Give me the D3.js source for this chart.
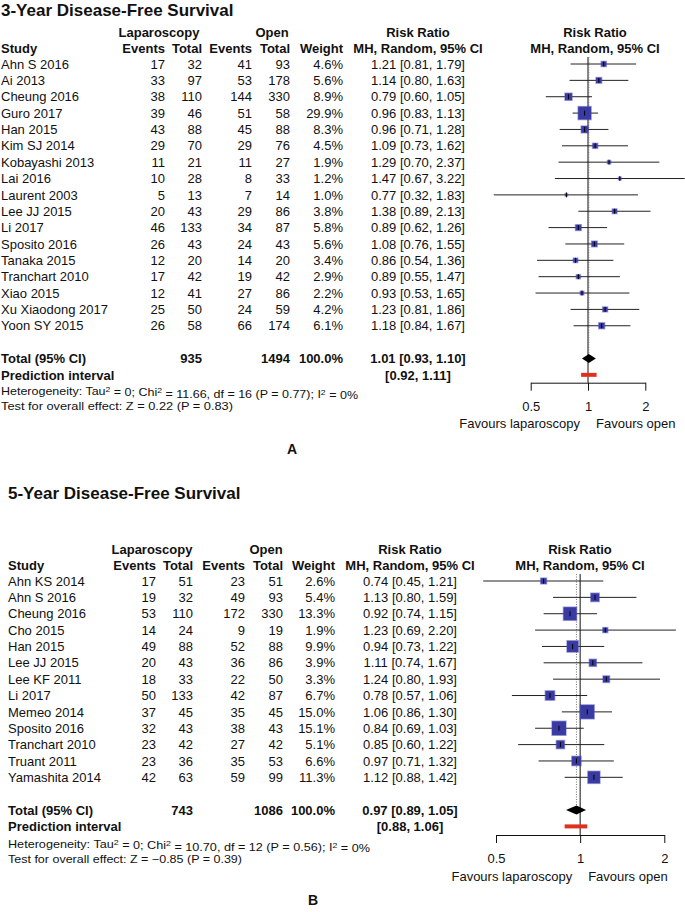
<!DOCTYPE html>
<html>
<head>
<meta charset="utf-8">
<script src="https://cdn.jsdelivr.net/npm/d3@7"></script>
<style>
  html, body { margin: 0; padding: 0; background: #fff; }
  svg { display: block; }
  text { font-family: "Liberation Sans", Arial, Helvetica, sans-serif; fill: #111; }
</style>
</head>
<body>
<svg id="chart" width="685" height="912"></svg>
<script>
// ---------------- DATA : Panel A (3-year DFS) ----------------
const studiesA = ["Ahn S 2016","Ai 2013","Cheung 2016","Guro 2017","Han 2015","Kim SJ 2014","Kobayashi 2013","Lai 2016","Laurent 2003","Lee JJ 2015","Li 2017","Sposito 2016","Tanaka 2015","Tranchart 2010","Xiao 2015","Xu Xiaodong 2017","Yoon SY 2015"];
const lapEventsA = [17,33,38,39,43,29,11,10,5,20,46,26,12,17,12,25,26];
const lapTotalA  = [32,97,110,46,88,70,21,28,13,43,133,43,20,42,41,50,58];
const openEventsA = [41,53,144,51,45,29,11,8,7,29,34,24,14,19,27,24,66];
const openTotalA  = [93,178,330,58,88,76,27,33,14,86,87,43,20,42,86,59,174];
const weightA = [4.6,5.6,8.9,29.9,8.3,4.5,1.9,1.2,1.0,3.8,5.8,5.6,3.4,2.9,2.2,4.2,6.1];
const rrA = [1.21,1.14,0.79,0.96,0.96,1.09,1.29,1.47,0.77,1.38,0.89,1.08,0.86,0.89,0.93,1.23,1.18];
const loA = [0.81,0.80,0.60,0.83,0.71,0.73,0.70,0.67,0.32,0.89,0.62,0.76,0.54,0.55,0.53,0.81,0.84];
const hiA = [1.79,1.63,1.05,1.13,1.28,1.62,2.37,3.22,1.83,2.13,1.26,1.55,1.36,1.47,1.65,1.86,1.67];
const totalA = [935, 1494, 100.0, 1.01, 0.93, 1.10];   // lapTotal, openTotal, weight, rr, lo, hi
const predA = [0.92, 1.11];
const hetA = ["0", "11.66", "16", "0.77", "0%"];       // Tau2, Chi2, df, P, I2
const effectA = [0.22, "0.83"];                           // Z, P

// ---------------- DATA : Panel B (5-year DFS) ----------------
const studiesB = ["Ahn KS 2014","Ahn S 2016","Cheung 2016","Cho 2015","Han 2015","Lee JJ 2015","Lee KF 2011","Li 2017","Memeo 2014","Sposito 2016","Tranchart 2010","Truant 2011","Yamashita 2014"];
const lapEventsB = [17,19,53,14,49,20,18,50,37,32,23,23,42];
const lapTotalB  = [51,32,110,24,88,43,33,133,45,43,42,36,63];
const openEventsB = [23,49,172,9,52,36,22,42,35,38,27,35,59];
const openTotalB  = [51,93,330,19,88,86,50,87,45,43,42,53,99];
const weightB = [2.6,5.4,13.3,1.9,9.9,3.9,3.3,6.7,15.0,15.1,5.1,6.6,11.3];
const rrB = [0.74,1.13,0.92,1.23,0.94,1.11,1.24,0.78,1.06,0.84,0.85,0.97,1.12];
const loB = [0.45,0.80,0.74,0.69,0.73,0.74,0.80,0.57,0.86,0.69,0.60,0.71,0.88];
const hiB = [1.21,1.59,1.15,2.20,1.22,1.67,1.93,1.06,1.30,1.03,1.22,1.32,1.42];
const totalB = [743, 1086, 100.0, 0.97, 0.89, 1.05];
const predB = [0.88, 1.06];
const hetB = ["0", "10.70", "12", "0.56", "0%"];
const effectB = [-0.85, "0.39"];

// axis ticks & labels
const axisTicks = [0.5, 1, 2];
const favourLabels = ["Favours laparoscopy", "Favours open"];
const titles = ["3-Year Disease-Free Survival", "5-Year Disease-Free Survival"];
const panelLetters = ["A", "B"];

// ---------------- DRAWING ----------------
const svg = d3.select("#chart");
const f2 = d3.format(".2f"), f1 = d3.format(".1f");
const FONT = 13;

function txt(g, x, y, s, opt = {}) {
  return g.append("text")
    .attr("x", x).attr("y", y).attr("dy", "0.36em")
    .attr("text-anchor", opt.anchor || "start")
    .style("font-size", (opt.size || FONT) + "px")
    .style("font-weight", opt.bold ? "bold" : "normal")
    .text(s);
}

function drawPanel(d, L) {
  const g = svg.append("g");
  const n = d.studies.length;

  // Title
  txt(g, L.xStudy, L.yTitle, d.title, {bold: true, size: 17});

  // Headers
  const h1 = L.yHead, h2 = L.yHead + 16;
  txt(g, L.cLap, h1, "Laparoscopy", {bold: true, anchor: "middle"});
  txt(g, L.cOpen, h1, "Open", {bold: true, anchor: "middle"});
  txt(g, L.cRR, h1, "Risk Ratio", {bold: true, anchor: "middle"});
  txt(g, L.cPlot, h1, "Risk Ratio", {bold: true, anchor: "middle"});
  txt(g, L.xStudy, h2, "Study", {bold: true});
  txt(g, L.xLapE, h2, "Events", {bold: true, anchor: "end"});
  txt(g, L.xLapT, h2, "Total", {bold: true, anchor: "end"});
  txt(g, L.xOpE, h2, "Events", {bold: true, anchor: "end"});
  txt(g, L.xOpT, h2, "Total", {bold: true, anchor: "end"});
  txt(g, L.xW, h2, "Weight", {bold: true, anchor: "end"});
  txt(g, L.cRR, h2, "MH, Random, 95% CI", {bold: true, anchor: "middle"});
  txt(g, L.cPlot, h2, "MH, Random, 95% CI", {bold: true, anchor: "middle"});

  // Row scale
  const y = d3.scaleLinear().domain([0, 1]).range([L.yRow0, L.yRow0 + L.dy]);
  const yTot = y(n + 1), yPred = y(n + 2);

  // x scale (log)
  const x = d3.scaleLog().domain([0.5, 2]).range([L.x05, L.x2]);
  const box = d3.scaleSqrt().domain([0, d3.max(d.weight)]).range([0, L.maxBox]);

  // Table rows
  d.studies.forEach((s, i) => {
    const yy = y(i);
    txt(g, L.xStudy, yy, s);
    txt(g, L.xLapE, yy, d.lapEvents[i], {anchor: "end"});
    txt(g, L.xLapT, yy, d.lapTotal[i], {anchor: "end"});
    txt(g, L.xOpE, yy, d.openEvents[i], {anchor: "end"});
    txt(g, L.xOpT, yy, d.openTotal[i], {anchor: "end"});
    txt(g, L.xW, yy, f1(d.weight[i]) + "%", {anchor: "end"});
    txt(g, L.cRR, yy, `${f2(d.rr[i])} [${f2(d.lo[i])}, ${f2(d.hi[i])}]`, {anchor: "middle"});
  });

  // Totals
  txt(g, L.xStudy, yTot, "Total (95% CI)", {bold: true});
  txt(g, L.xLapT, yTot, d.total[0], {bold: true, anchor: "end"});
  txt(g, L.xOpT, yTot, d.total[1], {bold: true, anchor: "end"});
  txt(g, L.xW, yTot, f1(d.total[2]) + "%", {bold: true, anchor: "end"});
  txt(g, L.cRR, yTot, `${f2(d.total[3])} [${f2(d.total[4])}, ${f2(d.total[5])}]`, {bold: true, anchor: "middle"});
  txt(g, L.xStudy, yPred, "Prediction interval", {bold: true});
  txt(g, L.cRR, yPred, `[${f2(d.pred[0])}, ${f2(d.pred[1])}]`, {bold: true, anchor: "middle"});

  // Heterogeneity & overall effect
  const hs = 11.5;
  const het = g.append("text").attr("x", L.xStudy).attr("y", yPred + L.dHet).attr("dy", "0.36em")
    .style("font-size", hs + "px");
  const sup = (t) => het.append("tspan").attr("dy", "-0.4em").style("font-size", "8px").text(t);
  const nor = (t) => het.append("tspan").attr("dy", "0.4em").text(t);
  het.append("tspan").text("Heterogeneity: Tau");
  sup("2"); nor(` = ${d.het[0]}; Chi`); sup("2");
  nor(` = ${d.het[1]}, df = ${d.het[2]} (P = ${d.het[3]}); I`); sup("2"); nor(` = ${d.het[4]}`);
  het.attr("textLength", L.hetW).attr("lengthAdjust", "spacingAndGlyphs");
  g.append("text").attr("x", L.xStudy).attr("y", yPred + L.dHet + 15).attr("dy", "0.36em")
    .style("font-size", hs + "px")
    .attr("textLength", L.effW).attr("lengthAdjust", "spacingAndGlyphs")
    .text(`Test for overall effect: Z = ${f2(d.effect[0])} (P = ${d.effect[1]})`);

  // Reference line at 1 (solid) and summary (dotted)
  const yTop = y(0) - 7;
  g.append("line").attr("x1", x(1)).attr("x2", x(1)).attr("y1", yTop).attr("y2", L.yAxis)
    .attr("stroke", "#111").attr("stroke-width", 1);
  g.append("line").attr("x1", x(d.total[3])).attr("x2", x(d.total[3])).attr("y1", yTop).attr("y2", yTot)
    .attr("stroke", "#777").attr("stroke-width", 1).attr("stroke-dasharray", "1,1.5");

  // CI lines
  g.selectAll(".ci").data(d3.range(n)).join("line")
    .attr("x1", i => x(d.lo[i])).attr("x2", i => x(d.hi[i]))
    .attr("y1", i => y(i)).attr("y2", i => y(i))
    .attr("stroke", "#222").attr("stroke-width", 1);

  // Boxes
  const bs = i => Math.max(2.4, box(d.weight[i]));
  g.selectAll(".bx").data(d3.range(n)).join("rect")
    .attr("x", i => x(d.rr[i]) - bs(i) / 2)
    .attr("y", i => y(i) - bs(i) / 2)
    .attr("width", bs).attr("height", bs)
    .attr("fill", "#3a3aa3")
    .attr("stroke", "rgba(70,70,180,0.45)").attr("stroke-width", 1.5);

  // point-estimate ticks
  g.selectAll(".pt").data(d3.range(n)).join("line")
    .attr("x1", i => x(d.rr[i])).attr("x2", i => x(d.rr[i]))
    .attr("y1", i => y(i) - 2.5).attr("y2", i => y(i) + 2.5)
    .attr("stroke", "#000").attr("stroke-width", 1);

  // Diamond
  const dh = 4.5;
  g.append("path")
    .attr("d", `M${x(d.total[4])},${yTot} L${x(d.total[3])},${yTot - dh} L${x(d.total[5])},${yTot} L${x(d.total[3])},${yTot + dh} Z`)
    .attr("fill", "#000");

  // Prediction interval
  g.append("line").attr("x1", x(d.pred[0])).attr("x2", x(d.pred[1]))
    .attr("y1", yPred).attr("y2", yPred)
    .attr("stroke", "#e0301e").attr("stroke-width", 4);

  // Axis
  const ax = d3.axisBottom(x).tickValues(axisTicks).tickFormat(d3.format(""))
    .tickSizeInner(8).tickSizeOuter(0).tickPadding(11);
  const ag = g.append("g").attr("transform", `translate(0,${L.yAxis})`).call(ax);
  ag.select(".domain").attr("stroke", "#111");
  ag.selectAll(".tick line").attr("stroke", "#111");
  ag.selectAll(".tick text").style("font-size", "13px")
    .style("font-family", '"Liberation Sans", Arial, Helvetica, sans-serif').attr("fill", "#111");

  txt(g, x(1) - 8, L.yAxis + 41, favourLabels[0], {anchor: "end"});
  txt(g, x(1) + 8, L.yAxis + 41, favourLabels[1]);

  // Panel letter
  txt(g, L.xLetter, L.yLetter, d.letter, {bold: true, size: 14, anchor: "middle"});
}

drawPanel({
  title: titles[0], letter: panelLetters[0],
  studies: studiesA, lapEvents: lapEventsA, lapTotal: lapTotalA, openEvents: openEventsA, openTotal: openTotalA,
  weight: weightA, rr: rrA, lo: loA, hi: hiA, total: totalA, pred: predA, het: hetA, effect: effectA
}, {
  xStudy: 1, yTitle: 10, yHead: 32, yRow0: 64, dy: 16.36,
  cLap: 159, cOpen: 272, cRR: 418, cPlot: 595,
  xLapE: 165, xLapT: 202, xOpE: 252, xOpT: 290, xW: 343,
  x05: 530.7, x2: 645.3, maxBox: 13, yAxis: 382.7, dHet: 16, hetW: 357, effW: 232,
  xLetter: 292, yLetter: 449
});

drawPanel({
  title: titles[1], letter: panelLetters[1],
  studies: studiesB, lapEvents: lapEventsB, lapTotal: lapTotalB, openEvents: openEventsB, openTotal: openTotalB,
  weight: weightB, rr: rrB, lo: loB, hi: hiB, total: totalB, pred: predB, het: hetB, effect: effectB
}, {
  xStudy: 8, yTitle: 493, yHead: 549, yRow0: 581, dy: 16.36,
  cLap: 152, cOpen: 266, cRR: 410, cPlot: 580,
  xLapE: 156, xLapT: 193, xOpE: 245, xOpT: 283, xW: 335,
  x05: 496, x2: 664.3, maxBox: 14, yAxis: 835, dHet: 17.5, hetW: 362, effW: 234,
  xLetter: 313, yLetter: 900
});
</script>
</body>
</html>
